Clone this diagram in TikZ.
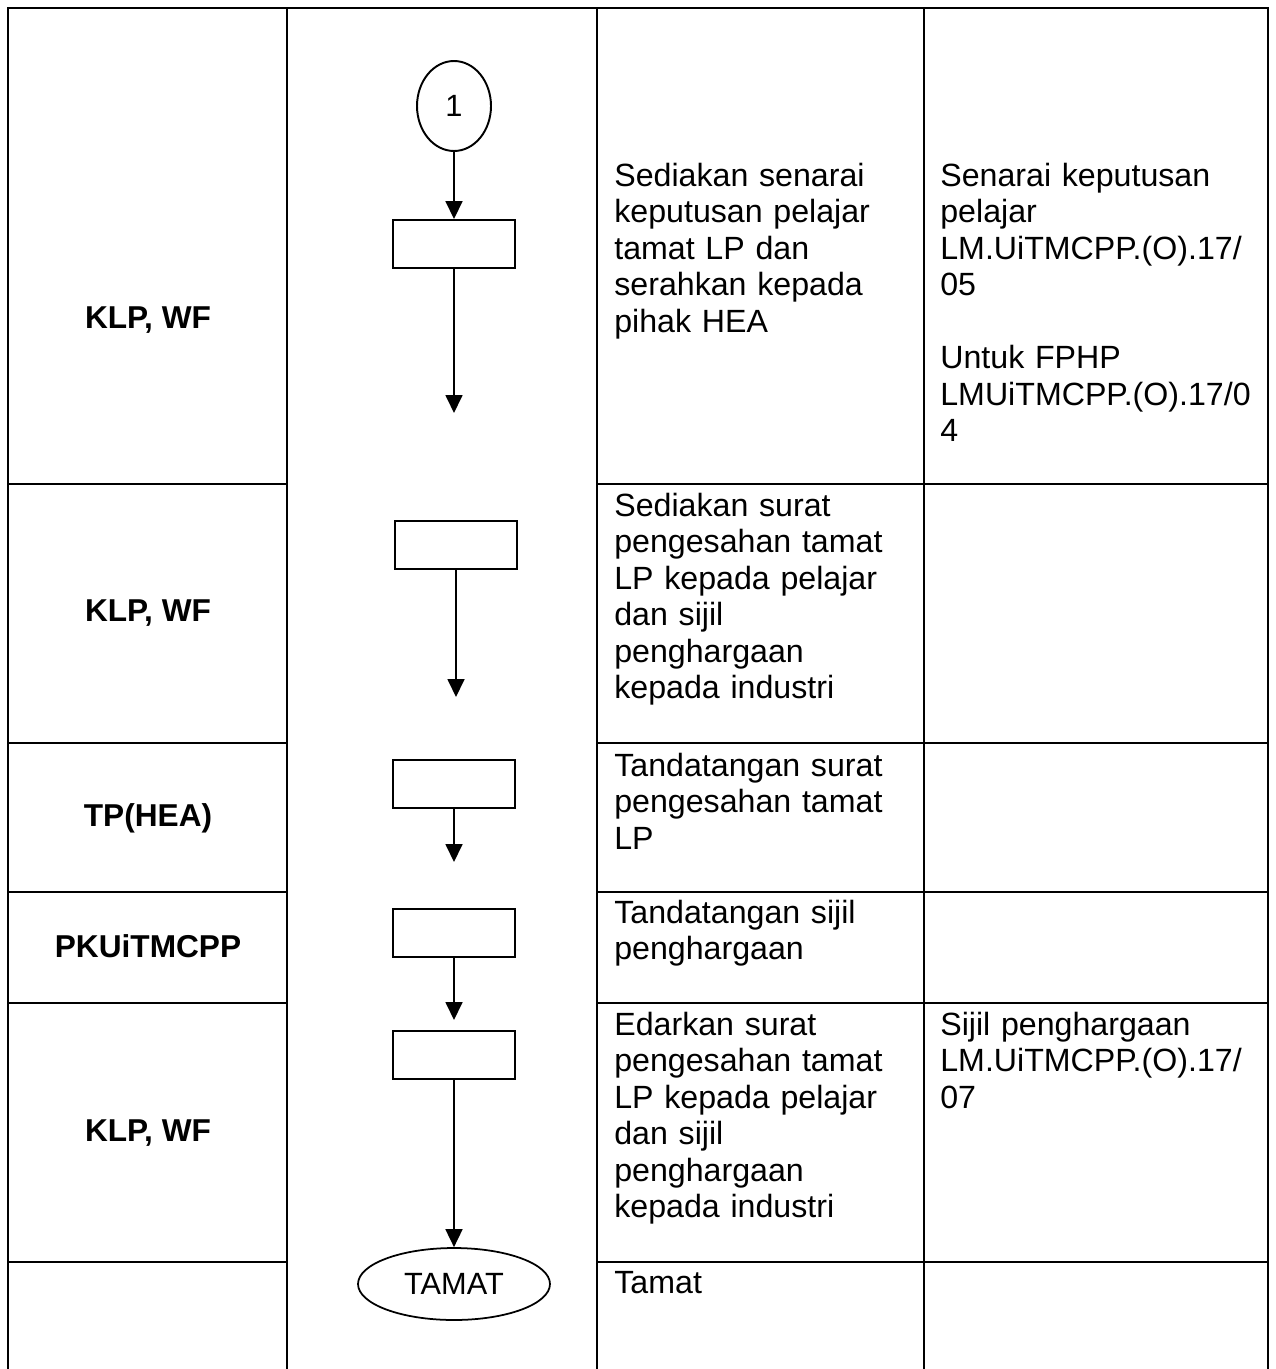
\documentclass[tikz,border=0pt]{standalone}
\usepackage{fontspec}
\setmainfont{Liberation Sans}
\usetikzlibrary{arrows.meta,shapes.geometric}

\begin{document}
\begin{tikzpicture}[x=0.02cm,y=-0.02cm,
    grid/.style={line width=1pt},
    proc/.style={draw,line width=1.1pt,minimum width=2.44cm,minimum height=0.96cm,inner sep=0pt},
    conn/.style={draw,ellipse,line width=1.1pt,minimum width=1.48cm,minimum height=1.8cm,inner sep=0pt,font=\fontsize{17.5}{19}\selectfont},
    term/.style={draw,ellipse,line width=1pt,minimum width=3.84cm,minimum height=1.44cm,inner sep=0pt,font=\fontsize{17.5}{19}\selectfont},
    who/.style={font=\fontsize{18}{21}\selectfont\bfseries},
    act/.style={anchor=base west,inner sep=0pt,text width=6.4cm,align=left,font=\fontsize{18.3}{20.8}\selectfont},
    flow/.style={-{Triangle[length=0.36cm,width=0.34cm]},line width=1pt}]

    \useasboundingbox (0,0) rectangle (1275,1369);

    % table
    \draw[grid] (8,1369) |- (1268,8) -- (1268,1369);
    \draw[grid] (287,8) -- (287,1369);
    \draw[grid] (597,8) -- (597,1369);
    \draw[grid] (924,8) -- (924,1369);
    \foreach \y in {484,743,892,1003,1262} {
        \draw[grid] (8,\y) -- (287,\y);
        \draw[grid] (597,\y) -- (1268,\y);
    }

    % who
    \node[who] (w1) at (148,320) {KLP, WF};
    \node[who] (w2) at (148,613) {KLP, WF};
    \node[who] (w3) at (148,818) {TP(HEA)};
    \node[who] (w4) at (148,946) {PKUiTMCPP};
    \node[who] (w5) at (148,1133) {KLP, WF};

    % flow
    \node[conn] (c1) at (454,106) {1};
    \node[proc] (b1) at (454,244) {};
    \coordinate (t1) at (454,413);
    \node[proc] (b2) at (456,545) {};
    \coordinate (t2) at (456,697);
    \node[proc] (b3) at (454,784) {};
    \coordinate (t3) at (454,862);
    \node[proc] (b4) at (454,933) {};
    \coordinate (t4) at (454,1020);
    \node[proc] (b5) at (454,1055) {};
    \node[term] (end) at (454,1284) {TAMAT};

    \draw[flow] (c1) -- (b1);
    \draw[flow] (b1) -- (t1);
    \draw[flow] (b2) -- (t2);
    \draw[flow] (b3) -- (t3);
    \draw[flow] (b4) -- (t4);
    \draw[flow] (b5) -- (end);

    % activity
    \node[act] (a1) at (614,186) {Sediakan senarai\\keputusan pelajar\\tamat LP dan\\serahkan kepada\\pihak HEA};
    \node[act] (a2) at (614,516) {Sediakan surat\\pengesahan tamat\\LP kepada pelajar\\dan sijil\\penghargaan\\kepada industri};
    \node[act] (a3) at (614,776) {Tandatangan surat\\pengesahan tamat\\LP};
    \node[act] (a4) at (614,923) {Tandatangan sijil\\penghargaan};
    \node[act] (a5) at (614,1035) {Edarkan surat\\pengesahan tamat\\LP kepada pelajar\\dan sijil\\penghargaan\\kepada industri};
    \node[act] (a6) at (614,1293) {Tamat};

    % records
    \node[act] (r1) at (940,186) {Senarai keputusan\\pelajar\\LM.UiTMCPP.(O).17/\\05\\[20.8pt]Untuk FPHP\\LMUiTMCPP.(O).17/0\\4};
    \node[act] (r5) at (940,1035) {Sijil penghargaan\\LM.UiTMCPP.(O).17/\\07};
\end{tikzpicture}
\end{document}
